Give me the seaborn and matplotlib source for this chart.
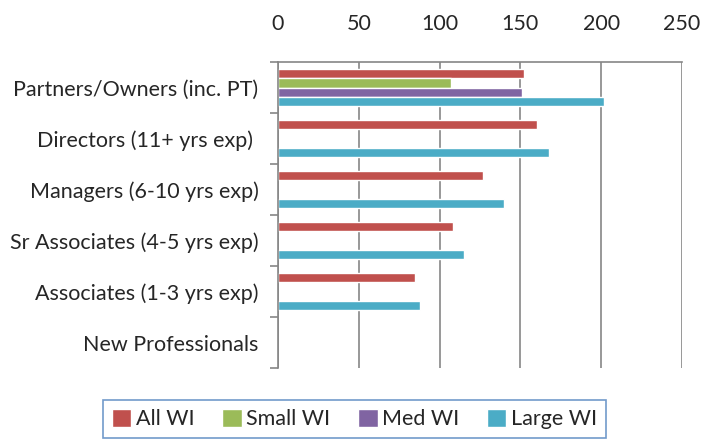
import numpy as np
import pandas as pd
import matplotlib
matplotlib.use('Agg')
import matplotlib.pyplot as plt
import seaborn as sns

# data
categories = ['Partners/Owners (inc. PT)', 'Directors (11+ yrs exp) ', 'Managers (6-10 yrs exp)',
              'Sr Associates (4-5 yrs exp)', 'Associates (1-3 yrs exp)', 'New Professionals']
series = ['All WI', 'Small WI', 'Med WI', 'Large WI']
all_wi = [152, 160, 127, 108, 85, np.nan]
small_wi = [107, np.nan, np.nan, np.nan, np.nan, np.nan]
med_wi = [151, np.nan, np.nan, np.nan, np.nan, np.nan]
large_wi = [202, 168, 140, 115, 88, np.nan]
colors = ['#C0504D', '#9BBB59', '#8064A2', '#4BACC6']

rows = []
for name, vals in zip(series, [all_wi, small_wi, med_wi, large_wi]):
    for cat, v in zip(categories, vals):
        rows.append({'category': cat, 'series': name, 'value': v})
df = pd.DataFrame(rows)

sns.set_style('white')
plt.rcParams['font.family'] = ['Lato', 'DejaVu Sans']
fs = 15.5

fig = plt.figure(figsize=(7.21, 4.40), dpi=100)
ax = fig.add_axes([278 / 721, 1 - 368 / 440, 404 / 721, 306 / 440])

sns.barplot(data=df, y='category', x='value', hue='series', order=categories,
            hue_order=series, palette=colors, width=0.72, orient='h',
            saturation=1, ax=ax, legend=True, errorbar=None)

ax.set_xlim(0, 250)
ax.set_ylim(len(categories) - 0.5, -0.5)
ax.set_xticks(range(0, 251, 50))
ax.xaxis.tick_top()
ax.tick_params(axis='x', length=0, pad=20, labelsize=fs)
ax.xaxis.grid(True, color='#868686', linewidth=1.2)
ax.set_axisbelow(True)
ax.set_xlabel('')
ax.set_ylabel('')

# category labels at centres, tick marks on band edges
ax.tick_params(axis='y', which='major', length=0, pad=14, labelsize=fs)
ax.set_yticks(np.arange(-0.5, len(categories), 1.0), minor=True)
ax.tick_params(axis='y', which='minor', length=6, width=1.2, color='#868686', left=True)

for s in ['right', 'bottom']:
    ax.spines[s].set_visible(False)
for s in ['top', 'left']:
    ax.spines[s].set_color('#868686')
    ax.spines[s].set_linewidth(1.2)

ax.get_legend().remove()
handles, labels = ax.get_legend_handles_labels()
leg = fig.legend(handles, labels, loc='center', bbox_to_anchor=(354.5 / 721, 1 - 419 / 440),
                 ncol=4, frameon=True, fancybox=False, fontsize=fs, handlelength=0.9,
                 handleheight=0.9, handletextpad=0.2, columnspacing=1.3,
                 borderpad=0.4)
leg.get_frame().set_edgecolor('#4F81BD')
leg.get_frame().set_linewidth(1.2)

fig.savefig('out.png', dpi=100)
